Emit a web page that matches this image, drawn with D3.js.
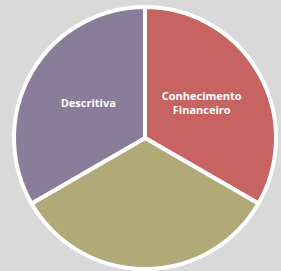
<!DOCTYPE html>
<html>
<head>
<meta charset="utf-8">
<script src="https://cdn.jsdelivr.net/npm/d3@7"></script>
<style>
  body { margin: 0; background: #d9d9d9; }
  svg { display: block; }
</style>
</head>
<body>
<div id="chart"></div>
<script>
// slice data, clockwise from 12 o'clock
const categories = ["Conhecimento Financeiro", "Outro", "Descritiva"];
const values = [1, 1, 1];
const labels = [["Conhecimento", "Financeiro"], [], ["Descritiva"]];
const colors = ["#c76360", "#b2a978", "#887e99"];

const width = 281;
const height = 271;
const cx = 145;
const cy = 138;
const radius = 131;

const svg = d3.select("#chart")
  .append("svg")
    .attr("width", width)
    .attr("height", height)
  .append("g")
    .attr("transform", `translate(${cx},${cy})`);

const pie = d3.pie().sort(null).value(d => d)(values);

const arc = d3.arc().innerRadius(0).outerRadius(radius);
const labelArc = d3.arc().innerRadius(radius * 0.5).outerRadius(radius * 0.5);

// outer white ring
svg.append("circle")
  .attr("r", radius + 1)
  .style("fill", "#fff");

svg.selectAll("path")
  .data(pie)
  .join("path")
    .attr("d", arc)
    .style("fill", (d, i) => colors[i])
    .style("stroke", "#fff")
    .style("stroke-width", 4)
    .style("stroke-linejoin", "round");

// labels
svg.selectAll("text.label")
  .data(pie)
  .join("text")
    .attr("class", "label")
    .attr("transform", d => {
      const c = labelArc.centroid(d);
      return `translate(${c[0]},${c[1] - 2})`;
    })
    .style("text-anchor", "middle")
    .style("font-family", "'Open Sans', sans-serif")
    .style("font-weight", "bold")
    .style("font-size", "11px")
    .style("fill", "#fff")
    .each(function (d, i) {
      const lines = labels[i];
      const t = d3.select(this);
      lines.forEach((l, j) => {
        t.append("tspan")
          .attr("x", 0)
          .attr("y", (j - (lines.length - 1) / 2) * 14)
          .attr("dy", "0.35em")
          .text(l);
      });
    });
</script>
</body>
</html>
